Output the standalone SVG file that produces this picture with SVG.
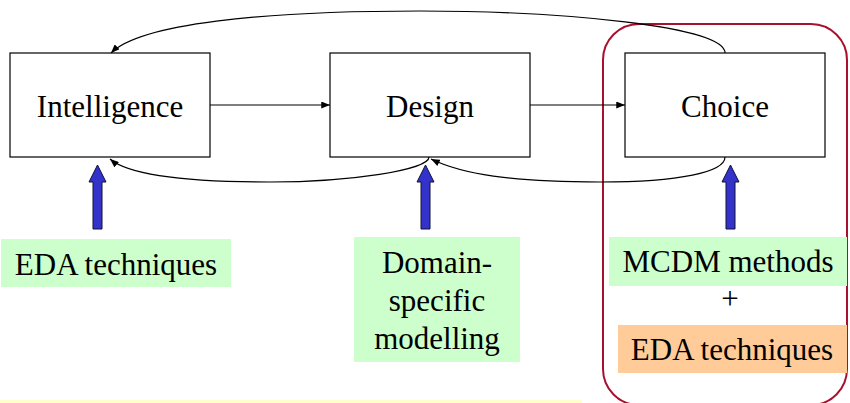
<svg xmlns="http://www.w3.org/2000/svg" width="850" height="403" viewBox="0 0 850 403">
  <style>
    .box { fill: #ffffff; stroke: #000000; stroke-width: 1.2; }
    .green { fill: #ccffcc; }
    .orange { fill: #ffcc99; }
    .conn { fill: none; stroke: #000000; stroke-width: 1.2; }
    .input { fill: #3333cc; stroke: #111133; stroke-width: 1; }
  </style>
  <defs>
    <marker id="tip" viewBox="0 0 10 8" refX="10" refY="4" markerWidth="9" markerHeight="7" markerUnits="userSpaceOnUse" orient="auto">
      <path d="M0,0 L10,4 L0,8 Z" fill="#000000"/>
    </marker>
  </defs>

  <rect x="0" y="400" width="582" height="3" fill="#ffffcc"/>

  <!-- grouping frame around the choice phase -->
  <rect id="choice-frame" x="603" y="24" width="244" height="381" rx="36" ry="36" fill="none" stroke="#a8102e" stroke-width="2"/>

  <g font-family="Times New Roman, Liberation Serif, serif" font-size="31" text-anchor="middle" fill="#000000">
    <g id="intelligence">
      <rect class="box" x="10" y="53" width="200" height="104"/>
      <text x="110" y="117">Intelligence</text>
    </g>
    <g id="design">
      <rect class="box" x="330" y="53" width="200" height="104"/>
      <text x="430" y="117">Design</text>
    </g>
    <g id="choice">
      <rect class="box" x="625" y="53" width="200" height="104"/>
      <text x="725" y="117">Choice</text>
    </g>

    <g id="eda-left">
      <rect class="green" x="1" y="239" width="230" height="48"/>
      <text x="116" y="275">EDA techniques</text>
    </g>
    <g id="domain-modelling">
      <rect class="green" x="354" y="237" width="166" height="125"/>
      <text x="437" y="273">Domain-</text>
      <text x="437" y="311">specific</text>
      <text x="437" y="349">modelling</text>
    </g>
    <g id="mcdm">
      <rect class="green" x="609" y="237" width="238" height="49"/>
      <text x="728" y="272">MCDM methods</text>
      <text x="730" y="309">+</text>
    </g>
    <g id="eda-right">
      <rect class="orange" x="618" y="325" width="229" height="48"/>
      <text x="732" y="360">EDA techniques</text>
    </g>
  </g>

  <g id="connectors">
    <line class="conn" x1="210" y1="105" x2="330" y2="105" marker-end="url(#tip)"/>
    <line class="conn" x1="530" y1="105" x2="625" y2="105" marker-end="url(#tip)"/>
    <path class="conn" d="M725,53 C725,26 560,11 420,11 C260,11 140,24 111,53" marker-end="url(#tip)"/>
    <path class="conn" d="M429,157 C429,170 350,182 270,182 C190,182 130,176 110,159" marker-end="url(#tip)"/>
    <path class="conn" d="M725,157 C725,172 680,182 600,182 C510,182 462,174 431,159" marker-end="url(#tip)"/>

    <path id="in-intelligence" class="input" d="M93,229 L93,182 L89,182 L97.5,165 L106,182 L102,182 L102,229 Z"/>
    <path id="in-design" class="input" d="M421,229 L421,182 L417,182 L425.5,165 L434,182 L430,182 L430,229 Z"/>
    <path id="in-choice" class="input" d="M726,229 L726,182 L722,182 L730.5,165 L739,182 L735,182 L735,229 Z"/>
  </g>
</svg>
